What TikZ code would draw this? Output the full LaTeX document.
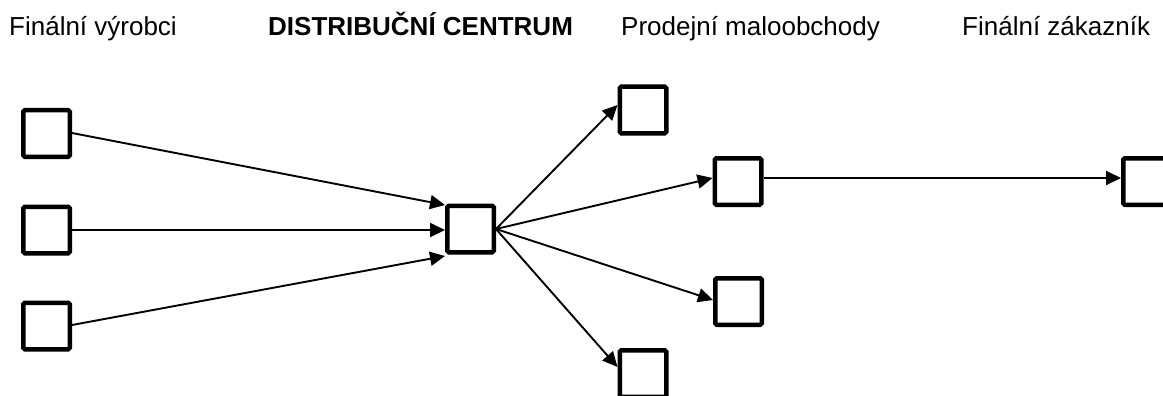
\documentclass[tikz,border=0pt]{standalone}
\usepackage{fontspec}
\setmainfont{Liberation Sans}
\usetikzlibrary{arrows.meta}
\begin{document}
\begin{tikzpicture}[x=1pt,y=-1pt,
  unit/.style={draw,line width=4.5pt,rounded corners=1.5pt,minimum size=46.5pt,inner sep=0pt,outer sep=2.25pt},
  flow/.style={line width=1.9pt,-{Triangle[length=15pt,width=14pt]}},
  head/.style={anchor=base west,inner sep=0pt,font=\fontsize{26}{31}\selectfont}]
  \useasboundingbox (0,0) rectangle (1163,396);

  % column headings
  \node[head] (h1) at (9,36) {Finální výrobci};
  \node[head,font=\fontsize{26}{31}\selectfont\bfseries] (h2) at (268,36) {DISTRIBUČNÍ CENTRUM};
  \node[head] (h3) at (621,36) {Prodejní maloobchody};
  \node[head] (h4) at (962,36) {Finální zákazník};

  % producers
  \node[unit] (p1) at (46.5,133.5) {};
  \node[unit] (p2) at (46.5,230) {};
  \node[unit] (p3) at (46.5,326) {};

  % distribution centre
  \node[unit] (dc) at (470.5,229) {};

  % retail outlets
  \node[unit] (r1) at (643,110) {};
  \node[unit] (r2) at (738,181.5) {};
  \node[unit] (r3) at (738.5,301.5) {};
  \node[unit] (r4) at (643,373.5) {};

  % final customer
  \node[unit] (fc) at (1146.5,181.5) {};

  % producers -> centre
  \draw[flow] ([yshift=0.5pt]p1.east) -- ([yshift=24pt]dc.west);
  \draw[flow] (p2.east) -- ([yshift=-1pt]dc.west);
  \draw[flow] ([yshift=1pt]p3.east) -- ([yshift=-27pt]dc.west);

  % centre -> outlets
  \draw[flow] (dc.east) -- ([yshift=5pt]r1.west);
  \draw[flow] (dc.east) -- ([yshift=3.5pt]r2.west);
  \draw[flow] (dc.east) -- ([yshift=1.5pt]r3.west);
  \draw[flow] (dc.east) -- ([yshift=6.5pt]r4.west);

  % outlet -> customer
  \draw[flow] ([yshift=3.5pt]r2.east) -- ([yshift=3.5pt]fc.west);
\end{tikzpicture}
\end{document}
